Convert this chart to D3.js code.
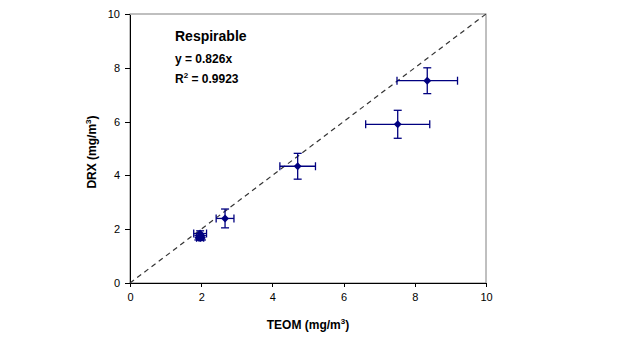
<!DOCTYPE html>
<html>
<head>
<meta charset="utf-8">
<script src="https://cdn.jsdelivr.net/npm/d3@7"></script>
<style>
  body { margin: 0; background: #fff; }
  text { font-family: Arial, "Liberation Sans", sans-serif; }
</style>
</head>
<body>
<div id="chart"></div>
<script>
// data
const teom = [1.92, 2.02, 1.97, 2.67, 4.71, 7.52, 8.35]
const drx = [1.68, 1.68, 1.84, 2.4, 4.34, 5.9, 7.52]
const teomErr = [0.05, 0.05, 0.18, 0.25, 0.5, 0.9, 0.85]
const drxErr = [0.08, 0.08, 0.1, 0.35, 0.48, 0.52, 0.48]
const ticks = [0, 2, 4, 6, 8, 10]
const notes = ["Respirable", "y = 0.826x", "R2 = 0.9923"]

const points = teom.map((t, i) => ({x: t, y: drx[i], ex: teomErr[i], ey: drxErr[i]}))

const svg = d3.select("#chart")
  .append("svg")
    .attr("width", 621)
    .attr("height", 339)

const x = d3.scaleLinear().domain([0, 10]).range([130, 486])
const y = d3.scaleLinear().domain([0, 10]).range([283, 14])

// frame
svg.append("rect")
  .attr("x", x(0)).attr("y", y(10))
  .attr("width", x(10) - x(0)).attr("height", y(0) - y(10))
  .attr("fill", "none")
  .attr("stroke", "#808080")
  .attr("stroke-width", 1)

const xAxis = svg.append("g")
  .attr("transform", "translate(0," + y(0) + ")")
  .call(d3.axisBottom(x).tickValues(ticks).tickSize(4).tickPadding(6).tickSizeOuter(0))
const yAxis = svg.append("g")
  .attr("transform", "translate(" + x(0) + ",0)")
  .call(d3.axisLeft(y).tickValues(ticks).tickSize(5).tickPadding(5).tickSizeOuter(0))

svg.selectAll(".domain, .tick line").attr("stroke", "#000").attr("shape-rendering", "crispEdges")
svg.selectAll(".tick text").attr("font-size", 11).attr("fill", "#000")
  .style("font-family", "Arial, 'Liberation Sans', sans-serif")

// 1:1 line
svg.append("line")
  .attr("x1", x(0)).attr("y1", y(0))
  .attr("x2", x(10)).attr("y2", y(10))
  .attr("stroke", "#333")
  .attr("stroke-width", 1.2)
  .attr("stroke-dasharray", "5,4")

const navy = "#000080"
const cap = 4

const g = svg.append("g")
points.forEach(d => {
  g.append("line")
    .attr("x1", x(d.x - d.ex)).attr("x2", x(d.x + d.ex))
    .attr("y1", y(d.y)).attr("y2", y(d.y))
    .attr("stroke", navy).attr("stroke-width", 1.3)
  g.append("line")
    .attr("x1", x(d.x)).attr("x2", x(d.x))
    .attr("y1", y(d.y - d.ey)).attr("y2", y(d.y + d.ey))
    .attr("stroke", navy).attr("stroke-width", 1.3)
  ;[d.x - d.ex, d.x + d.ex].forEach(v => {
    g.append("line")
      .attr("x1", x(v)).attr("x2", x(v))
      .attr("y1", y(d.y) - cap).attr("y2", y(d.y) + cap)
      .attr("stroke", navy).attr("stroke-width", 1.3)
  })
  ;[d.y - d.ey, d.y + d.ey].forEach(v => {
    g.append("line")
      .attr("x1", x(d.x) - cap).attr("x2", x(d.x) + cap)
      .attr("y1", y(v)).attr("y2", y(v))
      .attr("stroke", navy).attr("stroke-width", 1.3)
  })
})

g.selectAll("path.pt")
  .data(points).enter()
  .append("path")
    .attr("class", "pt")
    .attr("d", d3.symbol().type(d3.symbolDiamond2).size(40))
    .attr("transform", d => "translate(" + x(d.x) + "," + y(d.y) + ")")
    .attr("fill", navy)

// annotation
svg.append("text")
  .attr("x", 175).attr("y", 41)
  .attr("font-size", 14).attr("font-weight", "bold")
  .text(notes[0])
svg.append("text")
  .attr("x", 175).attr("y", 63)
  .attr("font-size", 12).attr("font-weight", "bold")
  .text(notes[1])
const r2 = svg.append("text")
  .attr("x", 175).attr("y", 83)
  .attr("font-size", 12).attr("font-weight", "bold")
r2.append("tspan").text("R")
r2.append("tspan").attr("dy", -5).attr("font-size", 8).text("2")
r2.append("tspan").attr("dy", 5).text(" = 0.9923")

// axis titles
const xt = svg.append("text")
  .attr("x", 308).attr("y", 329)
  .attr("text-anchor", "middle")
  .attr("font-size", 12).attr("font-weight", "bold")
xt.append("tspan").text("TEOM (mg/m")
xt.append("tspan").attr("dy", -5).attr("font-size", 8).text("3")
xt.append("tspan").attr("dy", 5).text(")")

const yt = svg.append("text")
  .attr("transform", "translate(96,152) rotate(-90)")
  .attr("text-anchor", "middle")
  .attr("font-size", 12).attr("font-weight", "bold")
yt.append("tspan").text("DRX (mg/m")
yt.append("tspan").attr("dy", -5).attr("font-size", 8).text("3")
yt.append("tspan").attr("dy", 5).text(")")
</script>
</body>
</html>
